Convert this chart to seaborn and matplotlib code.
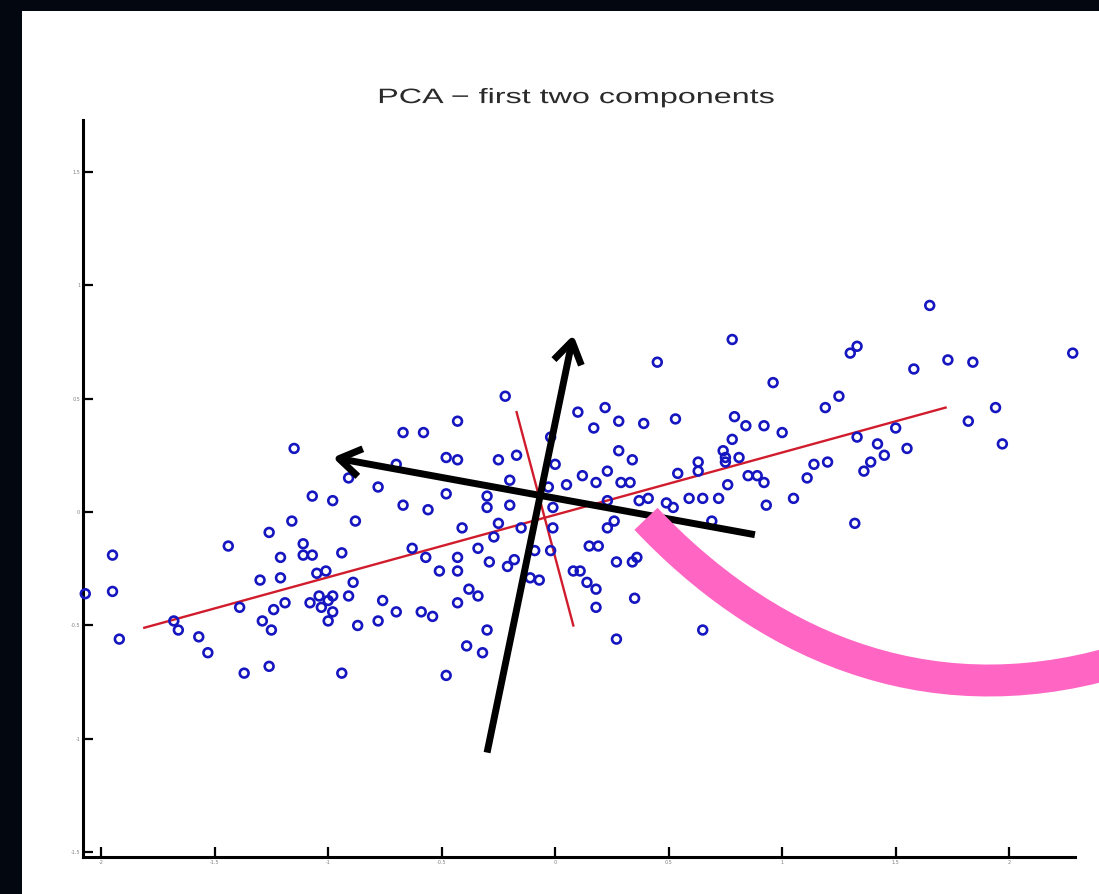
import numpy as np
import pandas as pd
import matplotlib
matplotlib.use("Agg")
import matplotlib.pyplot as plt
import seaborn as sns
from matplotlib.patches import Rectangle, PathPatch
from matplotlib.path import Path
from matplotlib.patheffects import AbstractPathEffect
from matplotlib.transforms import Affine2D

# ---------------- data ----------------
pc1_scores = [
    -2.07, -1.95, -1.95, -1.92, -1.68, -1.66, -1.57, -1.53, -1.37, -1.26,
    -0.94, -1.44, -1.39, -1.29, -1.25, -1.24, -1.19, -1.30, -1.21, -1.21,
    -1.26, -1.16, -1.15, -1.07, -0.98, -0.88, -1.11, -1.11, -1.07, -0.94,
    -1.01, -1.05, -0.89, -1.08, -1.04, -1.00, -0.98, -0.91, -1.03, -0.98,
    -1.00, -0.87, -0.91,
    -0.22, -0.43, -0.67, -0.58, 0.10, 0.22, 0.28, 0.39, 0.17, -0.02,
    -0.48, -0.43, -0.25, -0.17, -0.70, 0.28, 0.34, 0.00, -0.78, -0.48,
    -0.20, -0.03, 0.05, 0.12, 0.18, 0.23, 0.29, 0.33, -0.30, -0.30,
    -0.20, -0.67, -0.56, -0.01, 0.23, 0.37, -0.41, -0.25, -0.15, -0.01,
    0.26, 0.23, 0.15, 0.19, -0.63, -0.34, -0.27, -0.57, -0.43, -0.09,
    -0.02, -0.51, -0.43, -0.29, -0.21, -0.18, 0.27, 0.34, 0.36, -0.11,
    -0.07, 0.08, 0.11, 0.14, 0.18, -0.38, -0.34, -0.43, -0.76, -0.70,
    -0.78, -0.59, -0.54, 0.18, 0.35, -0.30, -0.39, -0.32, 0.27, -0.48,
    1.65, 0.78, 2.28, 0.45, 1.30, 1.33, 1.58, 1.73, 1.84, 0.96,
    1.19, 1.25, 1.94, 1.82, 1.97, 0.53, 0.79, 0.84, 0.92, 1.00,
    1.50, 1.33, 1.42, 1.55, 1.45, 1.39, 1.36, 1.20, 1.14, 1.11,
    0.78, 0.74, 0.75, 0.81, 0.63, 0.54, 0.63, 0.75, 0.85, 0.89,
    0.92, 0.76, 0.59, 0.65, 0.72, 0.49, 0.52, 0.41, 0.93, 1.05,
    0.69, 0.51, 1.32, 0.65,
]
pc2_scores = [
    -0.36, -0.19, -0.35, -0.56, -0.48, -0.52, -0.55, -0.62, -0.71, -0.68,
    -0.71, -0.15, -0.42, -0.48, -0.52, -0.43, -0.40, -0.30, -0.29, -0.20,
    -0.09, -0.04, 0.28, 0.07, 0.05, -0.04, -0.14, -0.19, -0.19, -0.18,
    -0.26, -0.27, -0.31, -0.40, -0.37, -0.39, -0.37, -0.37, -0.42, -0.44,
    -0.48, -0.50, 0.15,
    0.51, 0.40, 0.35, 0.35, 0.44, 0.46, 0.40, 0.39, 0.37, 0.33,
    0.24, 0.23, 0.23, 0.25, 0.21, 0.27, 0.23, 0.21, 0.11, 0.08,
    0.14, 0.11, 0.12, 0.16, 0.13, 0.18, 0.13, 0.13, 0.07, 0.02,
    0.03, 0.03, 0.01, 0.02, 0.05, 0.05, -0.07, -0.05, -0.07, -0.07,
    -0.04, -0.07, -0.15, -0.15, -0.16, -0.16, -0.11, -0.20, -0.20, -0.17,
    -0.17, -0.26, -0.26, -0.22, -0.24, -0.21, -0.22, -0.22, -0.20, -0.29,
    -0.30, -0.26, -0.26, -0.31, -0.34, -0.34, -0.37, -0.40, -0.39, -0.44,
    -0.48, -0.44, -0.46, -0.42, -0.38, -0.52, -0.59, -0.62, -0.56, -0.72,
    0.91, 0.76, 0.70, 0.66, 0.70, 0.73, 0.63, 0.67, 0.66, 0.57,
    0.46, 0.51, 0.46, 0.40, 0.30, 0.41, 0.42, 0.38, 0.38, 0.35,
    0.37, 0.33, 0.30, 0.28, 0.25, 0.22, 0.18, 0.22, 0.21, 0.15,
    0.32, 0.27, 0.24, 0.24, 0.22, 0.17, 0.18, 0.22, 0.16, 0.16,
    0.13, 0.12, 0.06, 0.06, 0.06, 0.04, 0.02, 0.06, 0.03, 0.06,
    -0.04, -0.09, -0.05, -0.52,
]

# principal-direction lines (red)
pc1_line_x = [-1.81, 1.72]
pc1_line_y = [-0.51, 0.46]
pc2_line_x = [-0.17, 0.08]
pc2_line_y = [0.44, -0.50]

# hand-drawn black arrows (start -> end)
arrow_up_start = (-0.30, -1.06)
arrow_up_end = (0.08, 0.78)
arrow_left_start = (0.88, -0.10)
arrow_left_end = (-0.98, 0.24)

# pink hand-drawn curve: cubic Bezier control points (data units)
pink_ctrl_x = [0.40, 0.90, 1.61, 2.47]
pink_ctrl_y = [-0.03, -0.56, -0.91, -0.66]

x_ticks = [-2, -1.5, -1, -0.5, 0, 0.5, 1, 1.5, 2]
x_tick_labels = ["-2", "-1.5", "-1", "-0.5", "0", "0.5", "1", "1.5", "2"]
y_ticks = [-1.5, -1, -0.5, 0, 0.5, 1, 1.5]
y_tick_labels = ["-1.5", "-1", "-0.5", "0", "0.5", "1", "1.5"]

title_text = "PCA \u2212 first two components"


class HStretch(AbstractPathEffect):
    """Widen glyphs horizontally about a display x position."""
    def __init__(self, sx, cx):
        super().__init__()
        self.sx, self.cx = sx, cx

    def draw_path(self, renderer, gc, tpath, affine, rgbFace=None):
        aff = affine + Affine2D().translate(-self.cx, 0).scale(self.sx, 1).translate(self.cx, 0)
        renderer.draw_path(gc, tpath, aff, rgbFace)


# ---------------- figure ----------------
W, H = 1099, 894
fig = plt.figure(figsize=(W / 100, H / 100), dpi=100, facecolor="#03070f")
fig.add_artist(Rectangle((22 / W, 0), 1 - 22 / W, (H - 11) / H,
                         transform=fig.transFigure, facecolor="white",
                         edgecolor="none", zorder=0))

left, right, top, bottom = 83, 1075, 120, 857
ax = fig.add_axes([left / W, 1 - bottom / H, (right - left) / W, (bottom - top) / H])
ax.set_facecolor("none")

df = pd.DataFrame({"pc1": pc1_scores, "pc2": pc2_scores})
sns.scatterplot(data=df, x="pc1", y="pc2", ax=ax, marker="o", s=40,
                facecolor="none", edgecolor="#1616c0", linewidth=1.9,
                zorder=3, clip_on=False, legend=False)

ax.plot(pc1_line_x, pc1_line_y, color="#d01c2c", lw=1.7, zorder=2)
ax.plot(pc2_line_x, pc2_line_y, color="#d01c2c", lw=1.7, zorder=2)

for s, e in [(arrow_up_start, arrow_up_end), (arrow_left_start, arrow_left_end)]:
    ax.annotate("", xy=e, xytext=s,
                arrowprops=dict(arrowstyle="->,head_length=0.65,head_width=0.42",
                                color="black", lw=5, mutation_scale=24,
                                shrinkA=0, shrinkB=0, capstyle="butt"),
                zorder=5, annotation_clip=False)

pink_path = Path(np.column_stack([pink_ctrl_x, pink_ctrl_y]),
                 [Path.MOVETO, Path.CURVE4, Path.CURVE4, Path.CURVE4])
ax.add_patch(PathPatch(pink_path, facecolor="none", edgecolor="#ff66c4",
                       lw=23, capstyle="butt", zorder=6, clip_on=False))

ax.set_xlim(-2.08, 2.29)
ax.set_ylim(-1.52, 1.727)
ax.set_xticks(x_ticks)
ax.set_xticklabels(x_tick_labels)
ax.set_yticks(y_ticks)
ax.set_yticklabels(y_tick_labels)
ax.tick_params(direction="in", length=7, width=1.6, colors="black",
               labelsize=3.5, labelcolor="#808080", pad=2)
for sp in ["top", "right"]:
    ax.spines[sp].set_visible(False)
for sp in ["left", "bottom"]:
    ax.spines[sp].set_linewidth(2.2)
    ax.spines[sp].set_color("black")
ax.set_xlabel("")
ax.set_ylabel("")

title_cx = 576.5
ax.set_title(title_text, fontsize=15, color="#2a2a2a", family="Liberation Sans",
             pad=12.2, x=(title_cx - left) / (right - left),
             path_effects=[HStretch(1.55, title_cx)])

fig.savefig("out.png", dpi=100, facecolor=fig.get_facecolor())
